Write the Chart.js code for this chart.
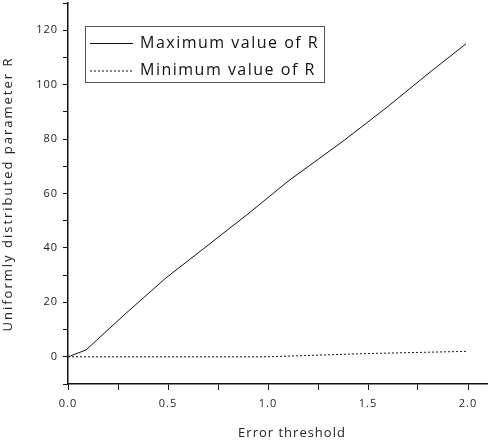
<!DOCTYPE html>
<html>
<head>
<meta charset="utf-8">
<script src="https://cdn.jsdelivr.net/npm/chart.js@4/dist/chart.umd.min.js"></script>
<style>
  html, body { margin: 0; padding: 0; background: #fff; }
</style>
</head>
<body>
<canvas id="rChart" width="488" height="442"></canvas>
<script>
// Data
const maxX = [0, 0.09, 0.29, 0.49, 0.7, 0.9, 1.1, 1.38, 1.6, 1.8, 1.99];
const maxR = [0, 2.5, 16, 29, 41, 52.5, 64.5, 79.5, 92, 104, 115];
const minX = [0, 0.5, 1.0, 1.5, 2.0];
const minR = [0, 0, 0, 1.2, 2];
const xTicks = [0, 0.25, 0.5, 0.75, 1.0, 1.25, 1.5, 1.75, 2.0];
const xTickLabels = [0, 0.5, 1.0, 1.5, 2.0];
const yTickLabels = [0, 20, 40, 60, 80, 100, 120];
const xTitle = 'Error threshold';
const yTitle = 'Uniformly distributed parameter R';

const FONT = "'Open Sans', sans-serif";

const toPoints = (xs, ys) => xs.map((x, i) => ({ x: x, y: ys[i] }));

// letter spacing like the original figure
const spacingPlugin = {
    id: 'spacing',
    beforeDraw(chart) {
        chart.ctx.letterSpacing = '1px';
    }
};

// axis titles with wider letter spacing
const axisTitles = {
    id: 'axisTitles',
    afterDraw(chart) {
        const ctx = chart.ctx;
        ctx.save();
        ctx.fillStyle = '#222';
        ctx.font = '13px ' + FONT;
        ctx.textAlign = 'center';
        ctx.textBaseline = 'middle';
        ctx.letterSpacing = '1px';
        ctx.fillText(xTitle, 292, 433);
        ctx.letterSpacing = '2px';
        ctx.translate(8, 194);
        ctx.rotate(-Math.PI / 2);
        ctx.fillText(yTitle, 0, 0);
        ctx.restore();
    }
};

// legend box drawn inside the plot area
const boxLegend = {
    id: 'boxLegend',
    afterDraw(chart) {
        const ctx = chart.ctx;
        ctx.save();
        ctx.letterSpacing = '1.5px';
        ctx.strokeStyle = '#555';
        ctx.lineWidth = 1;
        ctx.strokeRect(85.5, 26.5, 239, 56);
        chart.data.datasets.forEach((ds, i) => {
            const y = 43 + i * 27.5;
            ctx.beginPath();
            ctx.setLineDash(ds.borderDash || []);
            ctx.strokeStyle = ds.borderColor;
            ctx.lineWidth = 1;
            ctx.moveTo(90, y + 0.5);
            ctx.lineTo(133, y + 0.5);
            ctx.stroke();
            ctx.setLineDash([]);
            ctx.fillStyle = '#111';
            ctx.font = '16px ' + FONT;
            ctx.textBaseline = 'middle';
            ctx.fillText(ds.label, 140, y);
        });
        ctx.restore();
    }
};

new Chart(document.getElementById('rChart'), {
    type: 'line',
    data: {
        datasets: [{
            label: 'Maximum value of R',
            data: toPoints(maxX, maxR),
            borderColor: '#111',
            borderWidth: 1,
            pointRadius: 0,
            tension: 0
        }, {
            label: 'Minimum value of R',
            data: toPoints(minX, minR),
            borderColor: '#111',
            borderWidth: 1,
            borderDash: [2, 2],
            pointRadius: 0,
            tension: 0
        }]
    },
    options: {
        responsive: false,
        animation: false,
        devicePixelRatio: 1,
        layout: { padding: { top: 3, right: 0, left: 0, bottom: 0 } },
        plugins: { legend: { display: false }, tooltip: { enabled: false } },
        scales: {
            x: {
                type: 'linear',
                min: 0,
                max: 2.1,
                afterBuildTicks(scale) { scale.ticks = xTicks.map(v => ({ value: v })); },
                afterFit(scale) {
                    scale.height = 58;
                    scale.paddingLeft = 0;
                    scale.paddingRight = 0;
                },
                border: { display: true, color: '#111', width: 1.5 },
                grid: { drawOnChartArea: false, tickLength: 6, tickColor: '#111' },
                ticks: {
                    autoSkip: false,
                    maxRotation: 0,
                    padding: 7,
                    color: '#222',
                    font: { family: FONT, size: 11 },
                    callback: v => xTickLabels.some(t => Math.abs(t - v) < 1e-6) ? v.toFixed(1) : ''
                }
            },
            y: {
                min: -10,
                max: 130,
                afterFit(scale) {
                    scale.width = 68;
                    scale.paddingTop = 0;
                    scale.paddingBottom = 0;
                },
                border: { display: true, color: '#111', width: 1.5 },
                grid: { drawOnChartArea: false, tickLength: 5, tickColor: '#111' },
                ticks: {
                    stepSize: 10,
                    autoSkip: false,
                    padding: 5,
                    color: '#222',
                    font: { family: FONT, size: 11 },
                    callback: v => yTickLabels.includes(v) ? String(v) : ''
                }
            }
        }
    },
    plugins: [spacingPlugin, axisTitles, boxLegend]
});
</script>
</body>
</html>
